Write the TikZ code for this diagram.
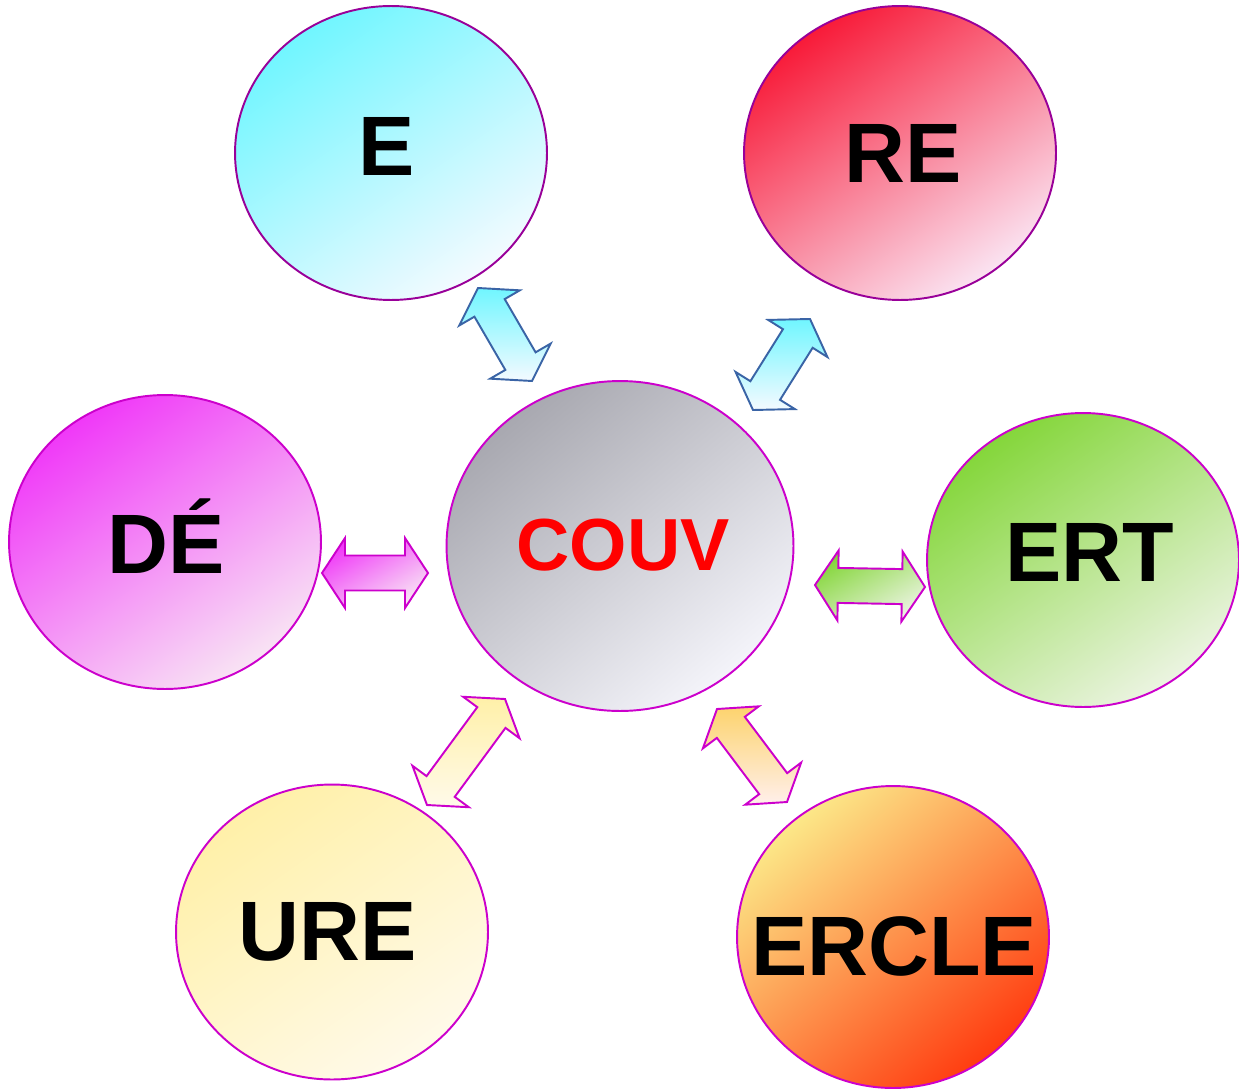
\documentclass[tikz,border=0pt]{standalone}
\usepackage{fontspec}
\setmainfont{Liberation Sans}
\usetikzlibrary{calc,shapes.geometric}
\definecolor{ringpurple}{HTML}{990099}
\definecolor{ringmagenta}{HTML}{CC00CC}
\definecolor{linkblue}{HTML}{3A64A6}
\definecolor{cyantop}{HTML}{70F6FF}
\definecolor{cyanlow}{HTML}{F4FAFF}
\definecolor{redtop}{HTML}{F81A38}
\definecolor{redlow}{HTML}{FAE4F2}
\definecolor{magtop}{HTML}{F038F8}
\definecolor{maglow}{HTML}{F8E4F4}
\definecolor{graytop}{HTML}{A8A8B0}
\definecolor{graylow}{HTML}{F4F4FA}
\definecolor{greentop}{HTML}{84D63A}
\definecolor{greenlow}{HTML}{ECF4E2}
\definecolor{yellowtop}{HTML}{FFF0A8}
\definecolor{yellowlow}{HTML}{FFFAEA}
\definecolor{orangetop}{HTML}{FCE888}
\definecolor{orangelow}{HTML}{FF3C10}
\tikzset{
  bubble/.style={
    ellipse,
    draw=ringmagenta,
    line width=1.1pt,
    minimum width=6.24cm,
    minimum height=5.88cm,
    inner sep=0pt
  },
  bubbletext/.style={
    anchor=base,
    inner sep=0pt,
    font=\fontsize{48}{48}\selectfont\bfseries
  },
  fatlink/.style={
    draw=ringmagenta,
    line width=1.1pt,
    line join=miter,
    to path={
      -- ($(\tikztostart)!0.46cm!(\tikztotarget)!0.70cm!90:(\tikztotarget)$)
      -- ($(\tikztostart)!0.46cm!(\tikztotarget)!0.35cm!90:(\tikztotarget)$)
      -- ($(\tikztotarget)!0.46cm!(\tikztostart)!0.35cm!-90:(\tikztostart)$)
      -- ($(\tikztotarget)!0.46cm!(\tikztostart)!0.70cm!-90:(\tikztostart)$)
      -- (\tikztotarget)
      -- ($(\tikztotarget)!0.46cm!(\tikztostart)!0.70cm!90:(\tikztostart)$)
      -- ($(\tikztotarget)!0.46cm!(\tikztostart)!0.35cm!90:(\tikztostart)$)
      -- ($(\tikztostart)!0.46cm!(\tikztotarget)!0.35cm!-90:(\tikztotarget)$)
      -- ($(\tikztostart)!0.46cm!(\tikztotarget)!0.70cm!-90:(\tikztotarget)$)
      -- cycle}
  }
}
\begin{document}
\begin{tikzpicture}[x=0.02cm,y=-0.02cm]
  \useasboundingbox (0,0) rectangle (1239,1091);
  \fill[white] (0,0) rectangle (1239,1091);

  % outer bubbles
  \node[bubble,draw=ringpurple,top color=cyantop,bottom color=cyanlow,shading angle=35] (e) at (391,153) {};
  \node[bubble,draw=ringpurple,top color=redtop,bottom color=redlow,shading angle=35] (re) at (900,153) {};
  \node[bubble,top color=magtop,bottom color=maglow,shading angle=35] (de) at (165,542) {};
  \node[bubble,top color=greentop,bottom color=greenlow,shading angle=35] (ert) at (1083,560) {};
  \node[bubble,top color=yellowtop,bottom color=yellowlow,shading angle=35,minimum height=5.9cm] (ure) at (332,932) {};
  \node[bubble,top color=orangetop,bottom color=orangelow,shading angle=40,minimum height=6.04cm] (ercle) at (893,937) {};
  % centre
  \node[bubble,top color=graytop,bottom color=graylow,shading angle=40,minimum width=6.94cm,minimum height=6.6cm] (couv) at (620,546) {};

  \node[bubbletext] (e-t) at (387,175) {E};
  \node[bubbletext] (re-t) at (903,182) {RE};
  \node[bubbletext] (de-t) at (166,573) {DÉ};
  \node[bubbletext] (ert-t) at (1090,581) {ERT};
  \node[bubbletext] (ure-t) at (328,960) {URE};
  \node[bubbletext] (ercle-t) at (894,975) {ERCLE};
  \node[bubbletext,text=red,font=\fontsize{42}{42}\selectfont\bfseries] (couv-t) at (623,570) {COUV};

  % link end points
  \coordinate (e-a) at (478,288);
  \coordinate (e-b) at (532,381);
  \coordinate (re-a) at (753,410);
  \coordinate (re-b) at (810,319);
  \coordinate (de-a) at (322,573);
  \coordinate (de-b) at (428,573);
  \coordinate (ert-a) at (815,585);
  \coordinate (ert-b) at (925,587);
  \coordinate (ure-a) at (427,805);
  \coordinate (ure-b) at (505,699);
  \coordinate (ercle-a) at (717,709);
  \coordinate (ercle-b) at (787,802);

  \draw[fatlink,draw=linkblue,top color=cyantop,bottom color=cyanlow] (e-a) to (e-b);
  \draw[fatlink,draw=linkblue,top color=cyantop,bottom color=cyanlow] (re-a) to (re-b);
  \draw[fatlink,top color=magtop,bottom color=maglow,shading angle=30] (de-a) to (de-b);
  \draw[fatlink,top color=greentop,bottom color=greenlow,shading angle=30] (ert-a) to (ert-b);
  \draw[fatlink,top color=yellowtop,bottom color=yellowlow] (ure-a) to (ure-b);
  \draw[fatlink,top color=orangetop!80!orange,bottom color=orangelow!8!white] (ercle-a) to (ercle-b);
\end{tikzpicture}
\end{document}
